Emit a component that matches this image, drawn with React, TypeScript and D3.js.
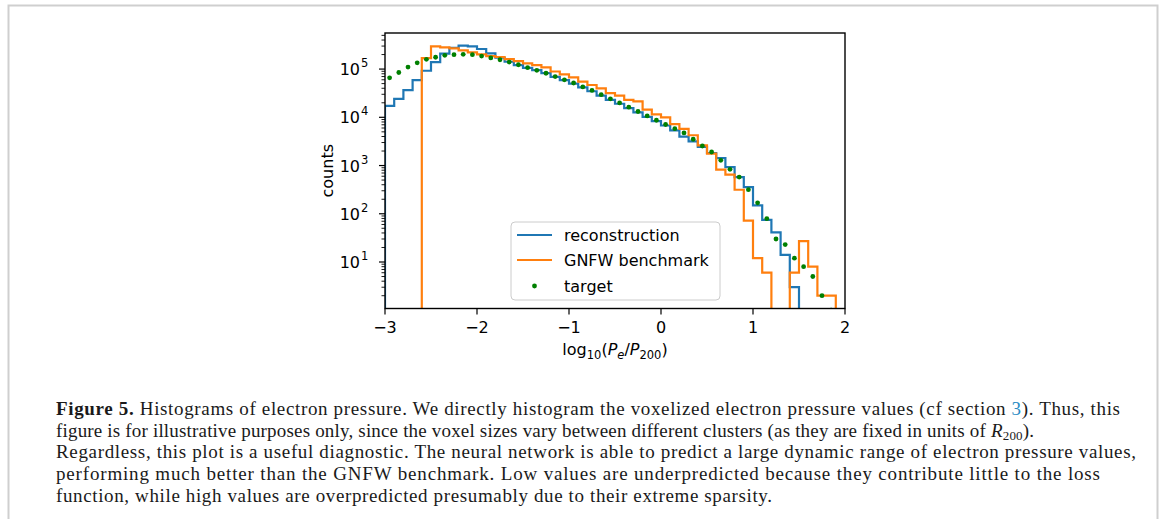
import React from 'react';
import * as d3 from 'd3';

// ---- data (histogram counts, 50 bins of width 0.1 from -3 to 2) ----
const binStart = -3;
const binWidth = 0.1;
const reconstruction = [
  17300, 24000, 36600, 59000, 92300, 139600, 208900, 275400, 305500, 295100,
  260600, 211800, 171800, 141900, 121100, 106400, 95300, 82600, 69200, 58900,
  50100, 41700, 34700, 28200, 22900, 19100, 15500, 12600, 10200, 8300,
  6760, 5370, 3980, 3160, 2430, 1820, 1430, 931, 577, 357,
  149, 75, 41, 14, 3, 0, 0, 0, 0, 0,
];
const gnfwBenchmark = [
  0, 0, 0, 0, 169400, 295100, 281800, 269200, 244900, 222300,
  201800, 186200, 177800, 161400, 146600, 131200, 121100, 108400, 89100, 77600,
  67600, 55000, 46800, 39800, 31600, 28200, 22900, 21400, 14500, 11500,
  10000, 7240, 5750, 4250, 2630, 1770, 822, 646, 315, 72,
  12, 6, 0, 0, 6, 27, 8, 2, 2, 0,
];
const target = [
  66000, 85000, 110000, 135000, 159000, 176000, 193000, 199000, 202000, 199000,
  186000, 170000, 156000, 140000, 123000, 107000, 94000, 82000, 70000, 60000,
  51500, 42700, 36100, 29500, 24200, 19900, 16200, 13200, 10700, 8700,
  7100, 5800, 4740, 3510, 2540, 1910, 1280, 834, 577, 316,
  169, 79, 30, 23, 12, 8, 5, 2, 1, 0,
];
const xTicks = [-3, -2, -1, 0, 1, 2];
const yMajorExponents = [1, 2, 3, 4, 5];
const legendLabels = ['reconstruction', 'GNFW benchmark', 'target'];
const captionLines = [
  'Histograms of electron pressure. We directly histogram the voxelized electron pressure values (cf section ',
  'figure is for illustrative purposes only, since the voxel sizes vary between different clusters (as they are fixed in units of ',
  'Regardless, this plot is a useful diagnostic. The neural network is able to predict a large dynamic range of electron pressure values,',
  'performing much better than the GNFW benchmark. Low values are underpredicted because they contribute little to the loss',
  'function, while high values are overpredicted presumably due to their extreme sparsity.',
];
const captionWidths = [1064, 978, 1080, 1044, 716];

const BLUE = '#1f77b4';
const ORANGE = '#ff7f0e';
const GREEN = '#008000';
const FONT = "'DejaVu Sans', sans-serif";
const SERIF = "'Liberation Serif', 'DejaVu Serif', serif";

const W = 1167;
const H = 519;
const L = 385, R = 845, T = 33, B = 308.5;

export default function App() {
  const x = d3.scaleLinear().domain([-3, 2]).range([L, R]);
  const y = d3.scaleLog().domain([Math.pow(10, 0.036), Math.pow(10, 5.748)]).range([B, T]);
  const yv = (v: number) => (v > 0 ? y(v) : y(1e-3));

  const stepPath = (vals: number[]) => {
    const pts: [number, number][] = [];
    pts.push([x(binStart), y(1e-3)]);
    vals.forEach((v, i) => {
      const a = binStart + i * binWidth;
      const b = binStart + (i + 1) * binWidth;
      pts.push([x(a), yv(v)]);
      pts.push([x(b), yv(v)]);
    });
    pts.push([x(binStart + vals.length * binWidth), y(1e-3)]);
    return d3.line()(pts) || '';
  };

  const minorTicks: number[] = [];
  for (let d = 0; d <= 5; d++) {
    for (let k = 2; k <= 9; k++) {
      const v = k * Math.pow(10, d);
      const lv = Math.log10(v);
      if (lv >= 0.036 && lv <= 5.748) minorTicks.push(v);
    }
  }

  const legX = 511, legY = 222, legW = 209, legH = 78;
  const legendRows = [legY + 13, legY + 38, legY + 64];
  const capX = 56;
  const capY0 = 415;
  const capDy = 21.7;

  return (
    <svg width={W} height={H} style={{ position: 'absolute', left: 0, top: 0, background: '#fff' }}
      xmlns="http://www.w3.org/2000/svg">
      <rect x={0} y={0} width={W} height={H} fill="#fff" />
      {/* figure frame */}
      <path d={`M8.5,${H + 5} V5.5 H1157.5 V${H + 5}`} fill="none" stroke="#cfcfcf" strokeWidth={2} />

      <defs>
        <clipPath id="plotclip">
          <rect x={L} y={T} width={R - L} height={B - T} />
        </clipPath>
      </defs>

      <g clipPath="url(#plotclip)">
        <path d={stepPath(reconstruction)} fill="none" stroke={BLUE} strokeWidth={2.2} />
        <path d={stepPath(gnfwBenchmark)} fill="none" stroke={ORANGE} strokeWidth={2.2} />
        {target.map((v, i) =>
          v > 0 ? (
            <circle key={i} cx={x(binStart + (i + 0.5) * binWidth)} cy={y(v)} r={2.4} fill={GREEN} />
          ) : null
        )}
      </g>

      {/* axes frame */}
      <rect x={L} y={T} width={R - L} height={B - T} fill="none" stroke="#000" strokeWidth={1.4} />

      {/* x ticks */}
      {xTicks.map((t) => (
        <g key={t}>
          <line x1={x(t)} x2={x(t)} y1={B} y2={B + 6} stroke="#000" strokeWidth={1.2} />
          <text x={x(t)} y={B + 24} textAnchor="middle" fontFamily={FONT} fontSize={16} fill="#000">
            {t < 0 ? '\u2212' + Math.abs(t) : String(t)}
          </text>
        </g>
      ))}

      {/* y ticks */}
      {minorTicks.map((v) => (
        <line key={'m' + v} x1={L - 3.5} x2={L} y1={y(v)} y2={y(v)} stroke="#000" strokeWidth={0.9} />
      ))}
      {yMajorExponents.map((e) => {
        const yy = y(Math.pow(10, e));
        return (
          <g key={e}>
            <line x1={L - 6} x2={L} y1={yy} y2={yy} stroke="#000" strokeWidth={1.2} />
            <text x={L - 25} y={yy + 6} textAnchor="end" fontFamily={FONT} fontSize={16} fill="#000">10</text>
            <text x={L - 24} y={yy - 2} textAnchor="start" fontFamily={FONT} fontSize={11.5} fill="#000">{e}</text>
          </g>
        );
      })}

      {/* axis labels */}
      <text x={(L + R) / 2} y={355} textAnchor="middle" fontFamily={FONT} fontSize={16} fill="#000">
        <tspan>log</tspan>
        <tspan fontSize={11.5} dy={4}>10</tspan>
        <tspan dy={-4}>(</tspan>
        <tspan fontStyle="italic">P</tspan>
        <tspan fontSize={11.5} fontStyle="italic" dy={4}>e</tspan>
        <tspan dy={-4}>/</tspan>
        <tspan fontStyle="italic">P</tspan>
        <tspan fontSize={11.5} dy={4}>200</tspan>
        <tspan dy={-4}>)</tspan>
      </text>
      <text transform={`translate(333,${(T + B) / 2}) rotate(-90)`} textAnchor="middle" fontFamily={FONT} fontSize={16} fill="#000">
        counts
      </text>

      {/* legend */}
      <rect x={legX} y={legY} width={legW} height={legH} rx={4} fill="#fff" fillOpacity={0.8} stroke="#cccccc" strokeWidth={1} />
      <line x1={517} x2={552} y1={legendRows[0]} y2={legendRows[0]} stroke={BLUE} strokeWidth={2.2} />
      <line x1={517} x2={552} y1={legendRows[1]} y2={legendRows[1]} stroke={ORANGE} strokeWidth={2.2} />
      <circle cx={534.5} cy={legendRows[2]} r={2.4} fill={GREEN} />
      {legendLabels.map((lab, i) => (
        <text key={lab} x={564} y={legendRows[i] + 5.5} fontFamily={FONT} fontSize={16} fill="#000">{lab}</text>
      ))}

      {/* caption */}
      <g fontFamily={SERIF} fontSize={19} fill="#1a1a1a">
        <text x={capX} y={capY0} textLength={captionWidths[0]} lengthAdjust="spacing">
          <tspan fontWeight="bold">Figure 5.</tspan>
          <tspan> {captionLines[0]}</tspan>
          <tspan fill="#2b8cc4">3</tspan>
          <tspan>). Thus, this</tspan>
        </text>
        <text x={capX} y={capY0 + capDy} textLength={captionWidths[1]} lengthAdjust="spacing">
          <tspan>{captionLines[1]}</tspan>
          <tspan fontStyle="italic">R</tspan>
          <tspan fontSize={13} dy={3}>200</tspan>
          <tspan dy={-3}>).</tspan>
        </text>
        <text x={capX} y={capY0 + capDy * 2} textLength={captionWidths[2]} lengthAdjust="spacing">{captionLines[2]}</text>
        <text x={capX} y={capY0 + capDy * 3} textLength={captionWidths[3]} lengthAdjust="spacing">{captionLines[3]}</text>
        <text x={capX} y={capY0 + capDy * 4} textLength={captionWidths[4]} lengthAdjust="spacing">{captionLines[4]}</text>
      </g>
    </svg>
  );
}
